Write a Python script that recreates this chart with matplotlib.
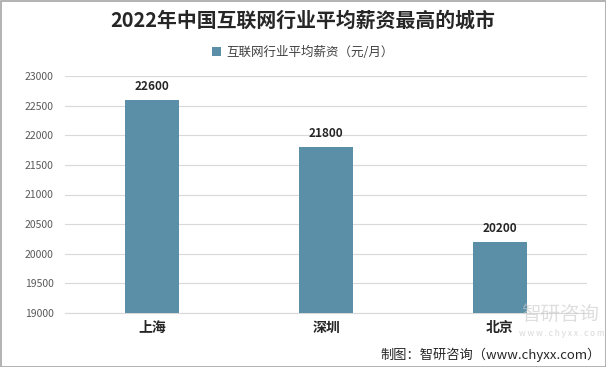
import matplotlib
matplotlib.use("Agg")
import matplotlib.pyplot as plt
from matplotlib.patches import Rectangle

plt.rcParams['font.family'] = ['Noto Sans CJK SC', 'DejaVu Sans']

categories = ['上海', '深圳', '北京']
values = [22600, 21800, 20200]
series_name = '互联网行业平均薪资（元/月）'
yticks = [19000, 19500, 20000, 20500, 21000, 21500, 22000, 22500, 23000]

fig = plt.figure(figsize=(6.06, 3.67), dpi=100)
ax = fig.add_axes([65/606, 1-313/367, (587-65)/606, (313-76)/367])

color = '#5B8FA8'
x = list(range(len(categories)))
bars = ax.bar(x, values, width=0.31, color=color, label=series_name, zorder=3)
ax.set_xlim(-0.5, len(categories)-0.5)
ax.set_ylim(19000, 23000)
ax.set_yticks(yticks)
ax.set_yticklabels([str(t) for t in yticks], fontsize=7.5, color='#595959')
ax.set_xticks(x)
ax.set_xticklabels(categories, fontsize=10, fontweight='bold', color='#262626')
ax.tick_params(axis='both', length=0)
ax.tick_params(axis='y', pad=8)
ax.tick_params(axis='x', pad=6)
ax.grid(axis='y', color='#D9D9D9', linewidth=0.8, zorder=0)
for s in ['top', 'right', 'left']:
    ax.spines[s].set_visible(False)
ax.spines['bottom'].set_color('#D9D9D9')
ax.spines['bottom'].set_linewidth(0.8)

for xi, v in zip(x, values):
    ax.annotate(str(v), (xi, v), xytext=(0, 5), textcoords='offset points',
                ha='center', va='bottom', fontsize=8.5, fontweight='bold', color='#262626')

fig.text(0.5, 1-20/367, '2022年中国互联网行业平均薪资最高的城市', ha='center', va='center',
         fontsize=14.3, fontweight='bold', color='#262626')
leg = fig.legend(handles=[bars], labels=[series_name], loc='center', bbox_to_anchor=(0.5, 1-52/367),
                 frameon=False, fontsize=9, handlelength=0.7, handleheight=0.7, handletextpad=0.4,
                 labelcolor='#404040')

# watermark
fig.text(560/606, 1-314/367, '智研咨询', ha='center', va='center', fontsize=14, color='#C8C8C8', alpha=0.6, zorder=0)
fig.text(562/606, 1-334/367, 'w w w . c h y x x . c o m', ha='center', va='center', fontsize=6, color='#C8C8C8', alpha=0.7)

fig.text(601/606, 1-355/367, '制图：智研咨询（www.chyxx.com）', ha='right', va='center',
         fontsize=9.5, color='#262626')

fig.patches.append(Rectangle((0.5/606, 0.5/367), 1-1/606, 1-1/367, transform=fig.transFigure,
                             fill=False, edgecolor='#A6A6A6', linewidth=1.2))
fig.savefig('out.png', dpi=100)
